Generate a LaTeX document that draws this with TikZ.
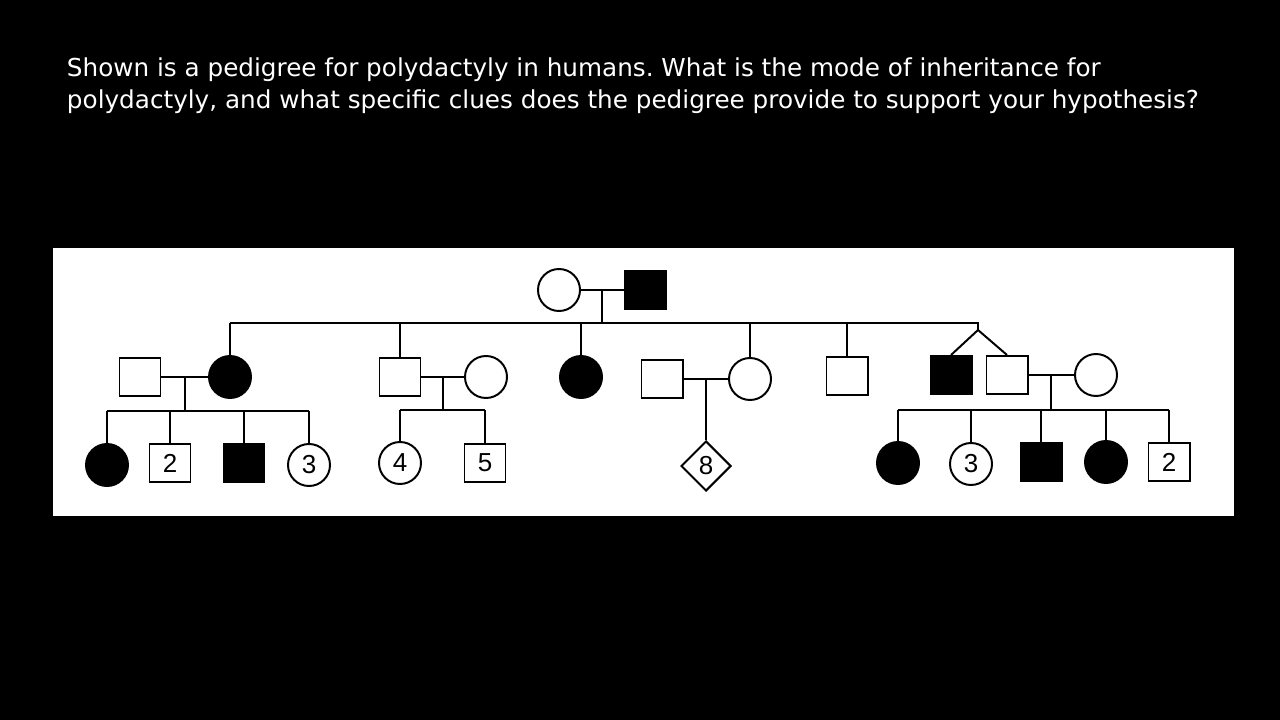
\documentclass[tikz,border=0pt]{standalone}
\usepackage{fontspec}
\usetikzlibrary{shapes.geometric,calc}
\newfontfamily\qfont{DejaVu Sans}
\newfontfamily\numfont{Liberation Sans}
\frenchspacing

\begin{document}
\begin{tikzpicture}[x=0.025cm, y=-0.025cm, line width=1.4pt,
  every node/.style={font=\numfont\fontsize{18.5}{18.5}\selectfont, inner sep=0pt},
  male/.style={draw, rectangle, minimum width=1.025cm, minimum height=0.95cm},
  maleaff/.style={male, fill=black},
  female/.style={draw, circle, minimum size=1.05cm},
  femaleaff/.style={female, fill=black},
  sexunk/.style={draw, diamond, minimum size=1.25cm}]
  % slide and panel
  \fill[black] (0,0) rectangle (1280,720);
  \fill[white] (53,248) rectangle (1234,516);
  \node[anchor=north west, align=left, text=white, font=\qfont\fontsize{17.55}{22.7}\selectfont] (question) at (66,57)
    {Shown is a pedigree for polydactyly in humans. What is the mode of inheritance for\\
     polydactyly, and what specific clues does the pedigree provide to support your hypothesis?};

  % generation I
  \node[female] (gma) at (559,290) {};
  \node[maleaff] (gpa) at (645,290) {};
  \draw (gma) -- (gpa);
  \coordinate (mI) at ($(gma.east)!0.5!(gpa.west)$);
  \coordinate (sibII) at (601,323);
  \coordinate (twin) at (978,330);
  \draw (mI) -- (mI |- sibII);

  % generation II
  \node[male] (h1) at (140,377) {};
  \node[femaleaff] (d1) at (230,377) {};
  \node[male] (s2) at (400,377) {};
  \node[female] (w2) at (486,377) {};
  \node[femaleaff] (d3) at (581,377) {};
  \node[male] (h4) at (662,379) {};
  \node[female] (d4) at (750,379) {};
  \node[male] (s5) at (847,376) {};
  \node[maleaff] (tw1) at (951,375) {};
  \node[male] (tw2) at (1007,375) {};
  \node[female] (w6) at (1096,375) {};

  \draw (d1.north |- sibII) -- (twin |- sibII) -- (twin);
  \foreach \k in {d1,s2,d3,d4,s5}
    \draw (\k.north) -- (\k.north |- sibII);
  \draw (tw1.north) -- (twin) -- (tw2.north);
  \draw (h1) -- (d1);
  \draw (s2) -- (w2);
  \draw (h4) -- (d4);
  \draw (tw2) -- (w6);

  % generation III
  \node[femaleaff] (a1) at (107,465) {};
  \node[male] (a2) at (170,463) {2};
  \node[maleaff] (a3) at (244,463) {};
  \node[female] (a4) at (309,465) {3};
  \node[female] (b1) at (400,463) {4};
  \node[male] (b2) at (485,463) {5};
  \node[sexunk] (c1) at (706,466) {8};
  \node[femaleaff] (e1) at (898,463) {};
  \node[female] (e2) at (971,464) {3};
  \node[maleaff] (e3) at (1041,462) {};
  \node[femaleaff] (e4) at (1106,462) {};
  \node[male] (e5) at (1169,462) {2};

  \coordinate (sibA) at (184,411);
  \coordinate (sibB) at (443,410);
  \coordinate (sibE) at (1052,410);
  \coordinate (mA) at ($(h1.east)!0.5!(d1.west)$);
  \coordinate (mB) at ($(s2.east)!0.5!(w2.west)$);
  \coordinate (mC) at ($(h4.east)!0.5!(d4.west)$);
  \coordinate (mE) at ($(tw2.east)!0.5!(w6.west)$);
  \draw (mA) -- (mA |- sibA);
  \draw (mB) -- (mB |- sibB);
  \draw (mC) -- (mC |- c1.north);
  \draw (mE) -- (mE |- sibE);
  \draw (a1.north |- sibA) -- (a4.north |- sibA);
  \draw (b1.north |- sibB) -- (b2.north |- sibB);
  \draw (e1.north |- sibE) -- (e5.north |- sibE);
  \foreach \k in {a1,a2,a3,a4}
    \draw (\k.north) -- (\k.north |- sibA);
  \foreach \k in {b1,b2}
    \draw (\k.north) -- (\k.north |- sibB);
  \foreach \k in {e1,e2,e3,e4,e5}
    \draw (\k.north) -- (\k.north |- sibE);
\end{tikzpicture}
\end{document}
